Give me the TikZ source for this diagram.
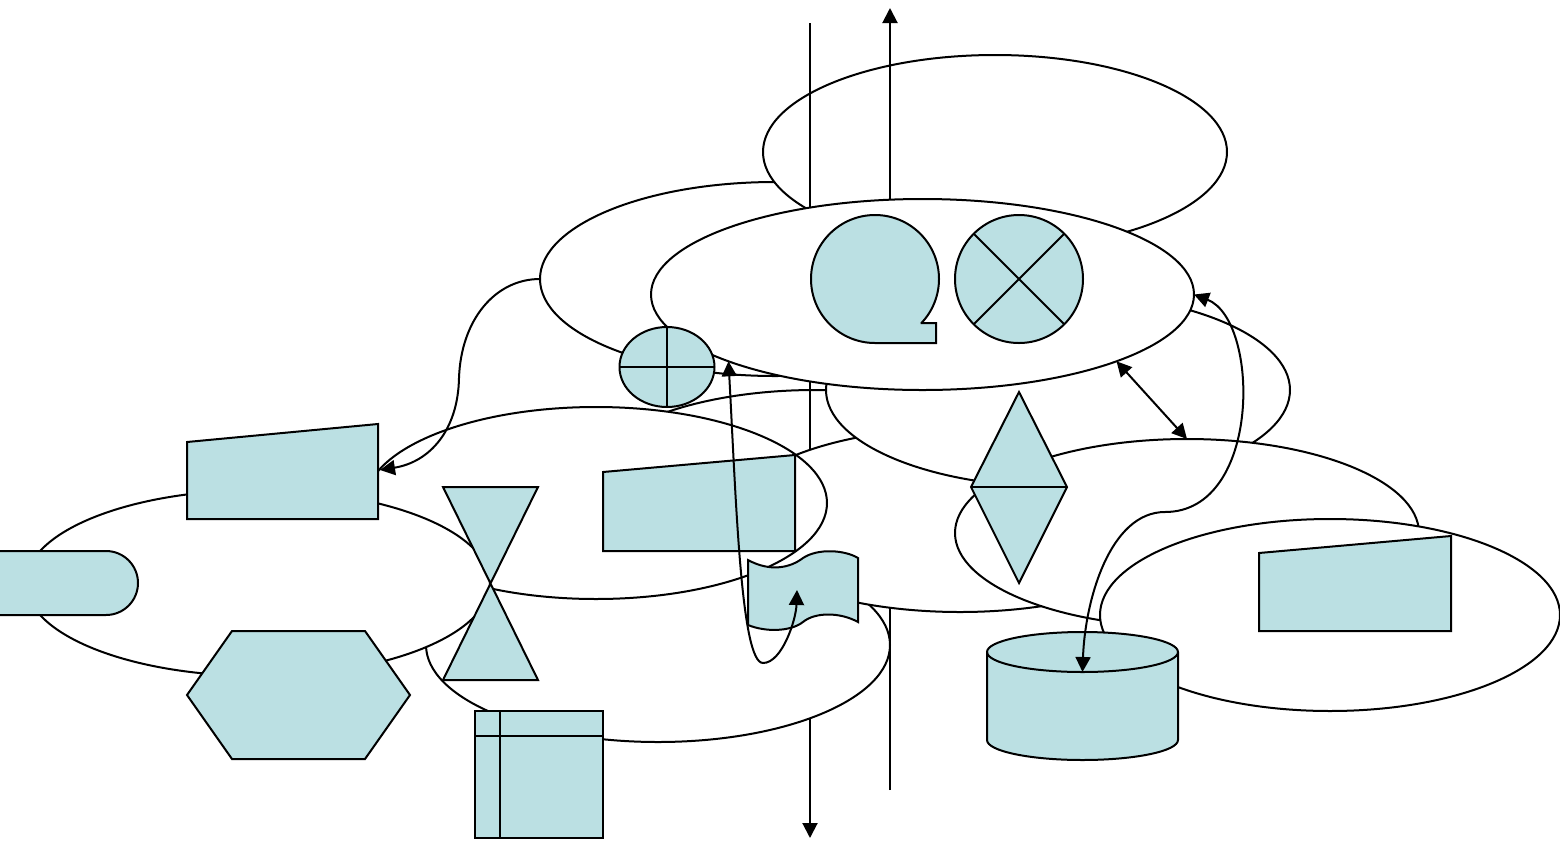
\documentclass[tikz,border=0pt]{standalone}
\usetikzlibrary{shapes.geometric,arrows.meta}
\definecolor{shapefill}{RGB}{187,224,227}
\begin{document}
\begin{tikzpicture}[x=0.5pt,y=-0.5pt,line width=1pt,line join=miter,
  >={Triangle[length=7.5pt,width=7.5pt]},
  ell/.style={ellipse,draw,fill=white,inner sep=0pt,outer sep=0pt},
  shp/.style={draw,fill=shapefill},
  conn/.style={draw}]
\useasboundingbox (0,0) rectangle (1560,842);
\clip (0,0) rectangle (1560,842);
% background ellipses (back to front)
\node[ell,minimum width=235pt,minimum height=97pt] (B) at (775,279) {};
\node[ell,minimum width=232pt,minimum height=97pt] (A) at (995,152) {};
\node[ell,minimum width=232pt,minimum height=96pt] (L) at (815,486) {};
% vertical connectors
\coordinate (v1a) at (810,23);
\coordinate (v1b) at (810,838);
\coordinate (v2a) at (890,790);
\coordinate (v2b) at (890,8);
\draw[conn,->] (v1a) -- (v1b);
\draw[conn,->] (v2a) -- (v2b);
\node[ell,minimum width=232pt,minimum height=97pt] (G) at (658,645) {};
\node[ell,minimum width=232pt,minimum height=92pt] (H) at (960,520) {};
\node[ell,minimum width=232pt,minimum height=97pt] (D) at (1058,390) {};
\node[ell,minimum width=271.5pt,minimum height=95.5pt] (C) at (922.5,294.5) {};
\node[ell,minimum width=232pt,minimum height=94pt] (E) at (1187,533) {};
\node[ell,minimum width=230pt,minimum height=96pt] (F) at (1330,615) {};
\node[ell,minimum width=231pt,minimum height=96pt] (I) at (596,503) {};
\node[ell,minimum width=232pt,minimum height=93pt] (J) at (258,583) {};
% flowchart shapes
% or-junction
\node[ellipse,shp,inner sep=0pt,outer sep=0pt,minimum width=47.5pt,minimum height=40pt] (orj) at (667,367) {};
\draw (orj.north) -- (orj.south) (orj.west) -- (orj.east);
% sequential access storage
\coordinate (seq) at (875,279);
\draw[shp] (921.5,323) -- (936,323) -- (936,343) -- (875,343)
  arc[start angle=270,end angle=-43.4,radius=32pt] -- cycle;
% summing junction
\node[circle,shp,inner sep=0pt,outer sep=0pt,minimum size=64pt] (sumj) at (1019,279) {};
\draw (sumj.45) -- (sumj.225) (sumj.135) -- (sumj.-45);
% sort
\draw[shp] (1019,392) -- (1067,487) -- (1019,583) -- (971,487) -- cycle;
\draw (971,487) -- (1067,487);
% manual inputs
\coordinate (lin) at (380,470);
\draw[shp] (187,442) -- (378,424) -- (378,519) -- (187,519) -- cycle;
\draw[shp] (603,472) -- (795,455) -- (795,551) -- (603,551) -- cycle;
\draw[shp] (1259,553) -- (1451,536) -- (1451,631) -- (1259,631) -- cycle;
% terminator
\draw[shp] (-40,551) -- (106,551) arc[start angle=90,end angle=-90,radius=16pt] -- (-40,615) -- cycle;
% preparation
\draw[shp] (187,695) -- (232,631) -- (365,631) -- (410,695) -- (365,759) -- (232,759) -- cycle;
% collate
\draw[shp] (443,487) -- (538,487) -- (443,680) -- (538,680) -- cycle;
% internal storage
\draw[shp] (475,711) rectangle (603,838);
\draw (500,711) -- (500,838) (475,736) -- (603,736);
% punched tape
\coordinate (tapein) at (797,590);
\draw[shp] (748,560) .. controls (770,572) and (790,568) .. (803,558)
  .. controls (818,548) and (845,550) .. (858,558)
  -- (858,622) .. controls (840,612) and (815,612) .. (803,622)
  .. controls (790,632) and (765,632) .. (748,625) -- cycle;
% magnetic disk
\coordinate (disktop) at (1082.5,672);
\draw[shp] (987,652) -- (987,740) arc[start angle=180,end angle=360,x radius=47.75pt,y radius=10pt]
  -- (1178,652) arc[start angle=0,end angle=180,x radius=47.75pt,y radius=10pt] -- cycle;
\draw (987,652) arc[start angle=180,end angle=360,x radius=47.75pt,y radius=10pt];
% curved connectors
\draw[conn,->] (B.west) .. controls (495,279) and (461,320) .. (459,378)
  .. controls (458,430) and (430,462) .. (lin);
\draw[conn,<->] (C.199) .. controls (736,500) and (741,663) .. (763,663)
  .. controls (782,663) and (796,620) .. (tapein);
\draw[conn,<->] (C.-19) -- (E.north);
\draw[conn,<->] (C.east) .. controls (1260,320) and (1262,512) .. (1165,512)
  .. controls (1110,512) and (1085,600) .. (disktop);
\end{tikzpicture}
\end{document}
